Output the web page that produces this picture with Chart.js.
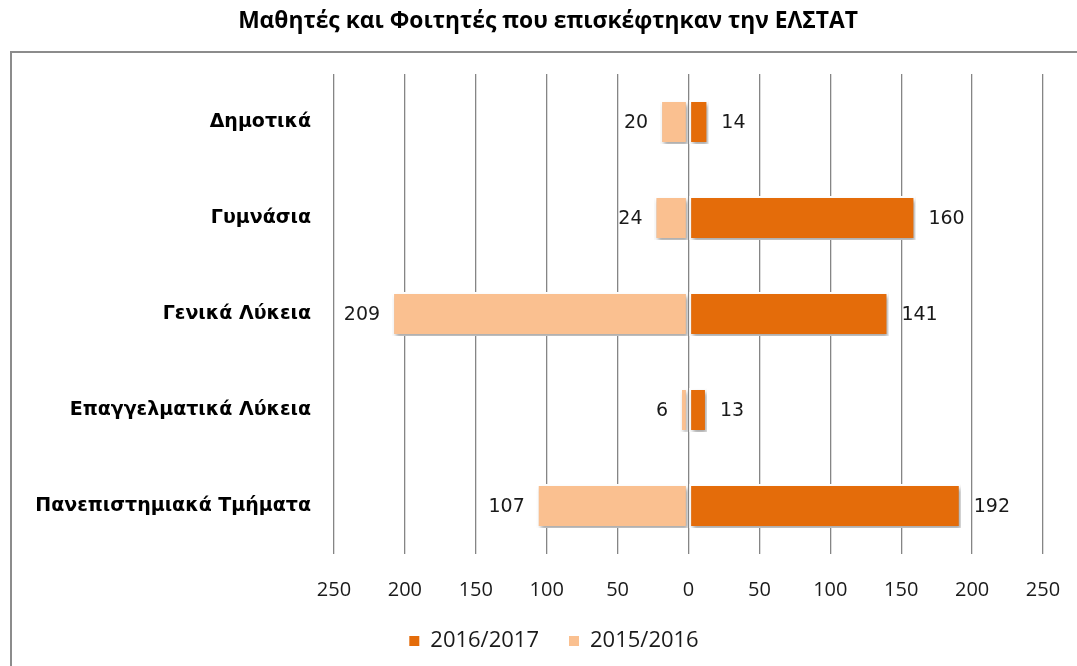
<!DOCTYPE html>
<html>
<head>
<meta charset="utf-8">
<script src="https://cdn.jsdelivr.net/npm/chart.js@4/dist/chart.umd.min.js"></script>
<style>
  html,body{margin:0;padding:0;background:#fff;}
  #wrap{width:1077px;height:666px;}
</style>
</head>
<body>
<div id="wrap"><canvas id="c" width="1077" height="666"></canvas></div>
<script>
// categories and values
const categories=['Δημοτικά','Γυμνάσια','Γενικά Λύκεια','Επαγγελματικά Λύκεια','Πανεπιστημιακά Τμήματα'];
const y2016_2017=[14,160,141,13,192];
const y2015_2016=[20,24,209,6,107];
const seriesLabels=['2016/2017','2015/2016'];
const titleText='Μαθητές και Φοιτητές που επισκέφτηκαν την ΕΛΣΤΑΤ';

const DARK='#E46C0A', LIGHT='#FAC090';

// frame, title, bar shadows, value labels, legend
const decor={
  id:'decor',
  beforeDraw(ch){
    const c=ch.ctx;
    c.save();
    c.strokeStyle='#8c8c8c'; c.lineWidth=2;
    c.beginPath();
    c.moveTo(11,666); c.lineTo(11,52); c.lineTo(1077,52);
    c.stroke();
    c.font='bold 22.8px "Open Sans"';
    c.fillStyle='#000'; c.textAlign='center'; c.textBaseline='middle';
    c.fillText(titleText,548,22);
    c.restore();
  },
  beforeDatasetsDraw(ch){
    const c=ch.ctx;
    c.save();
    c.shadowColor='rgba(0,0,0,0.35)';
    c.shadowBlur=4; c.shadowOffsetX=2; c.shadowOffsetY=3;
  },
  afterDatasetsDraw(ch){
    const c=ch.ctx;
    c.restore();
    c.save();
    c.font='19px "DejaVu Sans"';
    c.fillStyle='#1a1a1a';
    c.textBaseline='middle';
    ch.data.datasets.forEach((ds,di)=>{
      const meta=ch.getDatasetMeta(di);
      meta.data.forEach((el,i)=>{
        const v=ds.data[i];
        if(v>=0){ c.textAlign='left'; c.fillText(String(Math.abs(v)),el.x+13,el.y+1); }
        else { c.textAlign='right'; c.fillText(String(Math.abs(v)),el.x-12,el.y+1); }
      });
    });
    c.restore();
  },
  afterDraw(ch){
    const c=ch.ctx;
    c.save();
    c.font='22px "Open Sans"';
    c.textBaseline='middle';
    const gap=11, box=10, between=30;
    const items=ch.data.datasets.map(d=>({t:d.label,col:d.backgroundColor,w:box+gap+c.measureText(d.label).width}));
    const total=items.reduce((s,it)=>s+it.w,0)+between*(items.length-1);
    let x=554-total/2; const y=641;
    items.forEach(it=>{
      c.fillStyle=it.col; c.fillRect(x,y-5,box,box);
      c.fillStyle='#1a1a1a'; c.textAlign='left';
      c.fillText(it.t,x+box+gap,y);
      x+=it.w+between;
    });
    c.restore();
  }
};

new Chart(document.getElementById('c'),{
  type:'bar',
  data:{
    labels:categories,
    datasets:[
      {label:seriesLabels[0],data:y2016_2017,backgroundColor:DARK,borderColor:'#ffffff',borderWidth:2,borderSkipped:false,
       barPercentage:0.46,categoryPercentage:1},
      {label:seriesLabels[1],data:y2015_2016.map(v=>-v),backgroundColor:LIGHT,borderColor:'#ffffff',borderWidth:2,borderSkipped:false,
       barPercentage:0.46,categoryPercentage:1}
    ]
  },
  options:{
    indexAxis:'y',
    responsive:false,
    animation:false,
    layout:{padding:{left:0,right:34,top:74,bottom:0}},
    plugins:{
      legend:{display:false},
      tooltip:{enabled:false},
      title:{display:false}
    },
    scales:{
      x:{stacked:true,min:-250,max:250,
        ticks:{stepSize:50,padding:24,color:'#1a1a1a',font:{family:'"Open Sans"',size:20},
          callback:v=>String(Math.abs(v))},
        grid:{color:'#858585',lineWidth:1.3,drawTicks:false},
        border:{display:false},
        afterFit(s){ s.height=112; s.paddingLeft=0; s.paddingRight=0; }},
      y:{stacked:true,
        ticks:{padding:15,color:'#000',font:{family:'"DejaVu Sans"',size:19,weight:'bold'}},
        grid:{display:false},
        border:{display:false},
        afterFit(s){ s.width=334; }}
    }
  },
  plugins:[decor]
});
</script>
</body>
</html>
